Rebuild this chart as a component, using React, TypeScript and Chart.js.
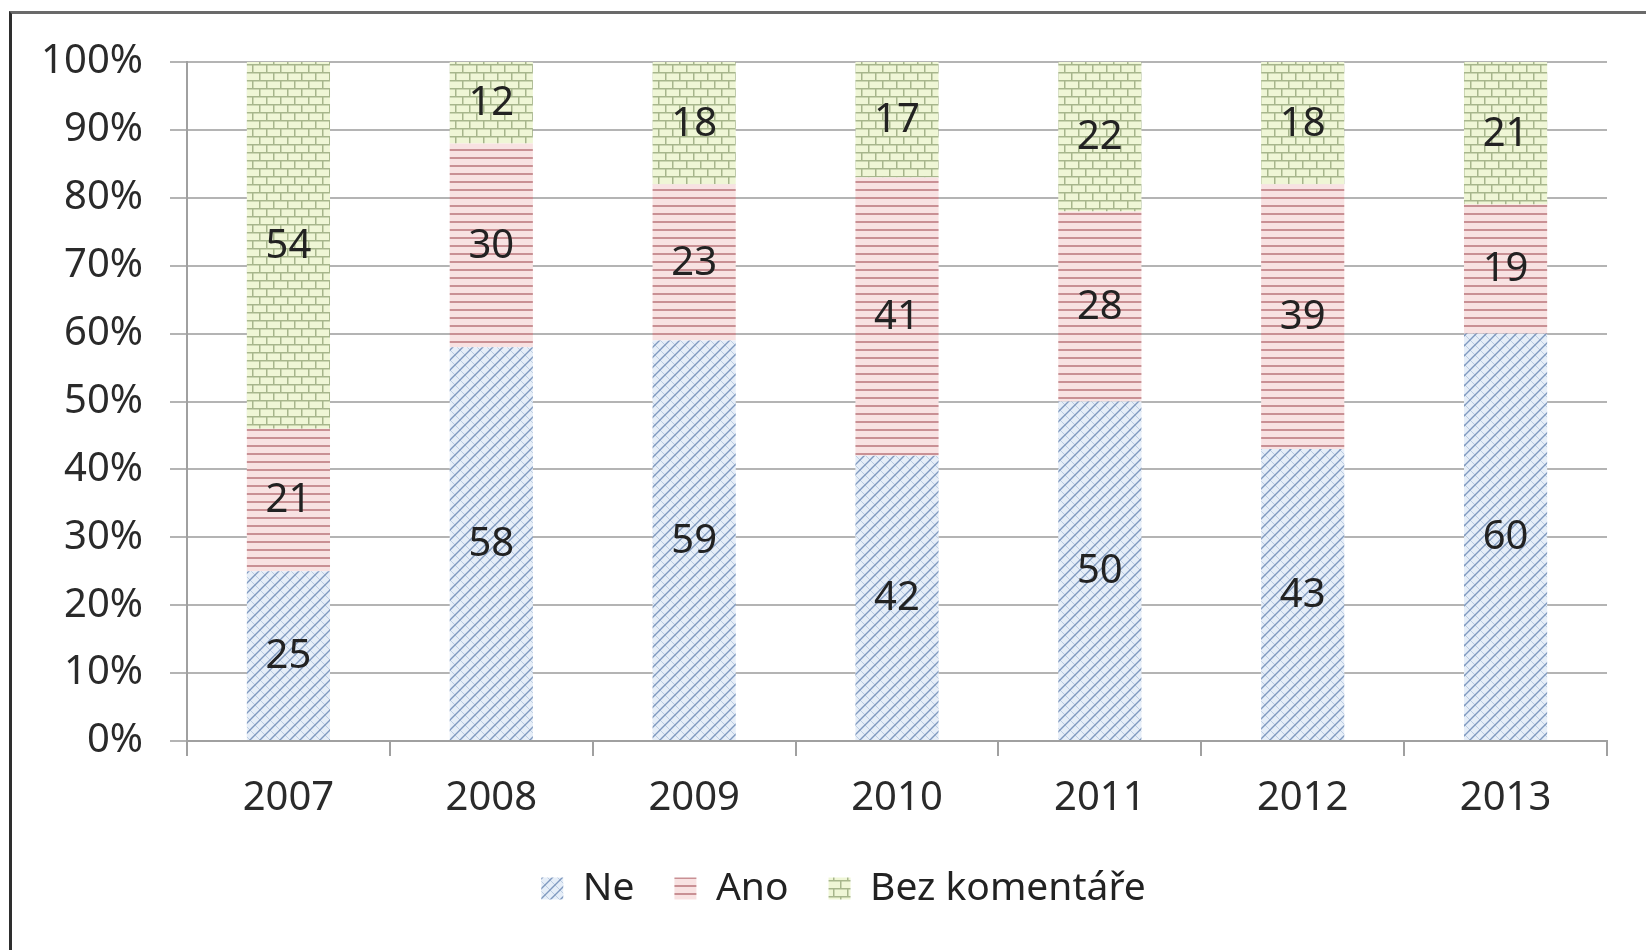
import React, { useEffect, useRef } from 'react';
import { Chart, registerables } from 'chart.js';

Chart.register(...registerables);

const years = ['2007', '2008', '2009', '2010', '2011', '2012', '2013'];
const seriesNames = ['Ne', 'Ano', 'Bez komentáře'];
const neValues = [25, 58, 59, 42, 50, 43, 60];
const anoValues = [21, 30, 23, 41, 28, 39, 19];
const bezValues = [54, 12, 18, 17, 22, 18, 21];
const yTickStep = 10;
const yMax = 100;

const FONT = '"Noto Sans", "DejaVu Sans", sans-serif';

function makePattern(kind: string): CanvasPattern | string {
  const c = document.createElement('canvas');
  const ctx = c.getContext('2d');
  if (!ctx) return '#ccc';
  if (kind === 'ne') {
    c.width = 10; c.height = 10;
    ctx.fillStyle = '#e6eef8';
    ctx.fillRect(0, 0, 10, 10);
    ctx.strokeStyle = 'rgba(140,165,200,0.45)';
    ctx.lineWidth = 1;
    ctx.beginPath();
    ctx.moveTo(0, 0); ctx.lineTo(10, 10);
    ctx.stroke();
    ctx.strokeStyle = '#7f99bf';
    ctx.lineWidth = 1.4;
    ctx.beginPath();
    ctx.moveTo(-1, 11); ctx.lineTo(11, -1);
    ctx.moveTo(-6, 6); ctx.lineTo(6, -6);
    ctx.moveTo(4, 16); ctx.lineTo(16, 4);
    ctx.stroke();
  } else if (kind === 'ano') {
    c.width = 8; c.height = 8;
    ctx.fillStyle = '#f8e2e2';
    ctx.fillRect(0, 0, 8, 8);
    ctx.fillStyle = '#c99094';
    ctx.fillRect(0, 5, 8, 2);
  } else {
    c.width = 14; c.height = 16;
    ctx.fillStyle = '#eff6d6';
    ctx.fillRect(0, 0, 14, 16);
    ctx.fillStyle = '#a7b68c';
    ctx.fillRect(0, 0, 14, 1.5);
    ctx.fillRect(0, 8, 14, 1.5);
    ctx.fillRect(0, 0, 1.5, 8);
    ctx.fillRect(7, 8, 1.5, 8);
  }
  const p = ctx.createPattern(c, 'repeat');
  return p || '#ccc';
}

const valueLabels = {
  id: 'valueLabels',
  afterLayout(chart: any) {
    const lg = chart.legend;
    if (lg) {
      lg.left += 40;
      lg.right += 40;
    }
  },
  afterDatasetsDraw(chart: any) {
    const ctx = chart.ctx;
    ctx.save();
    ctx.font = `40px ${FONT}`;
    ctx.fillStyle = '#222';
    ctx.textAlign = 'center';
    ctx.textBaseline = 'middle';
    chart.data.datasets.forEach((ds: any, i: number) => {
      const meta = chart.getDatasetMeta(i);
      meta.data.forEach((bar: any, j: number) => {
        const y = (bar.y + bar.base) / 2;
        ctx.fillText(String(ds.data[j]), bar.x, y + 1);
      });
    });
    ctx.restore();
  },
};

export default function App() {
  const ref = useRef<HTMLCanvasElement | null>(null);

  useEffect(() => {
    if (!ref.current) return;
    const chart = new Chart(ref.current, {
      type: 'bar',
      data: {
        labels: years,
        datasets: [
          { label: seriesNames[0], data: neValues, backgroundColor: makePattern('ne') as any, borderWidth: 0 },
          { label: seriesNames[1], data: anoValues, backgroundColor: makePattern('ano') as any, borderWidth: 0 },
          { label: seriesNames[2], data: bezValues, backgroundColor: makePattern('bez') as any, borderWidth: 0 },
        ],
      },
      options: {
        animation: false,
        responsive: true,
        maintainAspectRatio: false,
        layout: { padding: { left: 0, right: 39, top: 62, bottom: 32 } },
        datasets: { bar: { barPercentage: 0.41, categoryPercentage: 1 } },
        plugins: {
          legend: {
            position: 'bottom',
            labels: {
              font: { family: FONT, size: 39 },
              color: '#222',
              boxWidth: 22,
              boxHeight: 22,
              padding: 40,
            },
          },
          tooltip: { enabled: false },
          title: { display: false },
        },
        scales: {
          x: {
            stacked: true,
            grid: {
              display: true,
              drawOnChartArea: false,
              drawTicks: true,
              tickLength: 15,
              color: '#a0a0a0',
              lineWidth: 2,
              offset: true,
            },
            border: { color: '#a0a0a0', width: 2 },
            ticks: { font: { family: FONT, size: 40 }, color: '#2a2a2a', padding: 19 },
            afterFit: (s: any) => { s.height = 88; },
          },
          y: {
            stacked: true,
            min: 0,
            max: yMax,
            ticks: {
              stepSize: yTickStep,
              callback: (v: any) => `${v}%`,
              font: { family: FONT, size: 40 },
              color: '#2a2a2a',
              padding: 27,
            },
            grid: { color: '#b4b4b4', lineWidth: 2, tickLength: 17, drawTicks: true },
            border: { color: '#a0a0a0', width: 2 },
            afterFit: (s: any) => { s.width = 187; },
          },
        },
      },
      plugins: [valueLabels],
    });
    return () => chart.destroy();
  }, []);

  return (
    <div style={{ position: 'fixed', left: 0, top: 0, width: 1646, height: 950, background: '#fff' }}>
      <div
        style={{
          position: 'absolute',
          left: 9,
          top: 11,
          right: 0,
          bottom: 0,
          borderLeft: '3px solid #2e2e2e',
          borderTop: '3px solid #6a6a6a',
          pointerEvents: 'none',
        }}
      />
      <canvas ref={ref} style={{ position: 'absolute', left: 0, top: 0, width: 1646, height: 950 }} />
    </div>
  );
}
